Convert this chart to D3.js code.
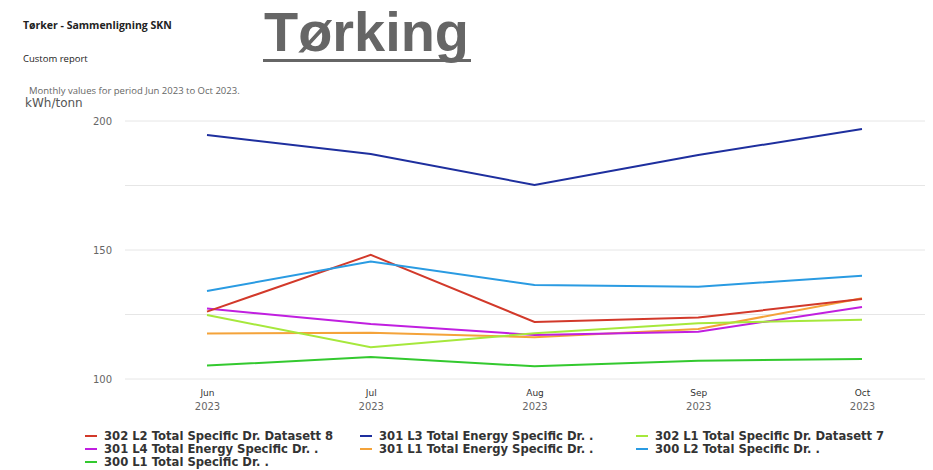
<!DOCTYPE html>
<html><head><meta charset="utf-8">
<script src="https://cdn.jsdelivr.net/npm/d3@7"></script>
<style>body{margin:0;background:#fff;}svg{display:block;}</style>
</head><body>
<svg id="c" width="933" height="470"></svg>
<script>
const months = ["Jun","Jul","Aug","Sep","Oct"];
const yearLabel = "2023";
const yTicks = [100,125,150,175,200];
const yLabels = [100,150,200];
const seriesNames = [
  "302 L2 Total Specific Dr. Datasett 8",
  "301 L3 Total Energy Specific Dr. .",
  "302 L1 Total Specific Dr. Datasett 7",
  "301 L4 Total Energy Specific Dr. .",
  "301 L1 Total Energy Specific Dr. .",
  "300 L2 Total Specific Dr. .",
  "300 L1 Total Specific Dr. ."
];
const seriesColors = ["#d2392a","#1e2f9e","#a6e83c","#c01fe0","#f4a33a","#2a9be2","#33c92f"];
const s302L2 = [126.1,148.1,122.1,123.8,131.0];
const s301L3 = [194.6,187.2,175.2,186.8,196.9];
const s302L1 = [124.8,112.3,117.7,121.6,123.0];
const s301L4 = [127.3,121.3,117.1,118.3,127.9];
const s301L1 = [117.6,117.9,116.2,119.4,131.3];
const s300L2 = [134.1,145.5,136.4,135.8,140.0];
const s300L1 = [105.2,108.5,104.9,107.1,107.8];
const seriesValues = [s302L2,s301L3,s302L1,s301L4,s301L1,s300L2,s300L1];

const svg = d3.select("#c");
// header texts
svg.append("text").attr("x",23).attr("y",29).attr("font-family","Open Sans, sans-serif").attr("font-weight","bold").attr("font-size",10.5).attr("fill","#222").text("Tørker - Sammenligning SKN");
svg.append("text").attr("x",23).attr("y",62).attr("font-family","Open Sans, sans-serif").attr("font-size",9.5).attr("fill","#222").text("Custom report");
svg.append("text").attr("x",29).attr("y",94).attr("font-family","Open Sans, sans-serif").attr("font-size",9.5).attr("fill","#666").text("Monthly values for period Jun 2023 to Oct 2023.");
svg.append("text").attr("x",25).attr("y",107).attr("font-family","DejaVu Sans, sans-serif").attr("font-size",12).attr("fill","#555").text("kWh/tonn");
svg.append("text").attr("x",264).attr("y",51).attr("font-family","Liberation Sans, Arial, sans-serif").attr("font-weight","bold").attr("font-size",56).attr("fill","#666").attr("textLength",205).attr("lengthAdjust","spacingAndGlyphs").text("Tørking");
svg.append("rect").attr("x",263).attr("y",59).attr("width",208).attr("height",3).attr("fill","#666");

const x = d3.scalePoint().domain(months).range([207,862]);
const y = d3.scaleLinear().domain([100,200]).range([379,121]);

const grid = svg.append("g");
grid.selectAll("line").data(yTicks).join("line")
  .attr("x1",125).attr("x2",925).attr("y1",d=>y(d)).attr("y2",d=>y(d))
  .attr("stroke","#e6e6e6").attr("stroke-width",1);

const yAxis = svg.append("g").attr("transform","translate(112,0)")
  .call(d3.axisLeft(y).tickValues(yLabels).tickSize(0).tickPadding(0));
yAxis.select(".domain").remove();
yAxis.selectAll("text").attr("font-family","DejaVu Sans, sans-serif").attr("font-size",10).attr("fill","#666");

const xAxis = svg.append("g").attr("transform","translate(0,379)")
  .call(d3.axisBottom(x).tickSize(0).tickPadding(0));
xAxis.select(".domain").remove();
xAxis.selectAll("text").each(function(d){
  const t = d3.select(this).text(null).attr("dy",null).attr("font-family","DejaVu Sans, sans-serif").attr("font-size",9).attr("fill","#333");
  t.append("tspan").attr("x",0).attr("y",17).text(d);
  t.append("tspan").attr("x",0).attr("y",31).attr("fill","#666").attr("font-size",10).text(yearLabel);
});

const line = d3.line().x((d,i)=>x(months[i])).y(d=>y(d));
const order = [6,4,3,2,0,5,1];
svg.append("g").selectAll("path").data(order).join("path")
  .attr("d",i=>line(seriesValues[i])).attr("fill","none")
  .attr("stroke",i=>seriesColors[i]).attr("stroke-width",2);

const lg = svg.append("g");
const colX = [85,360,636];
seriesNames.forEach((n,i)=>{
  const cx = colX[i%3], cy = 436 + Math.floor(i/3)*13;
  lg.append("line").attr("x1",cx).attr("x2",cx+12).attr("y1",cy).attr("y2",cy).attr("stroke",seriesColors[i]).attr("stroke-width",2);
  lg.append("text").attr("x",cx+19).attr("y",cy+4).attr("font-family","DejaVu Sans, sans-serif").attr("font-weight","bold").attr("font-size",11.6).attr("fill","#333").text(n);
});
</script>
</body></html>
